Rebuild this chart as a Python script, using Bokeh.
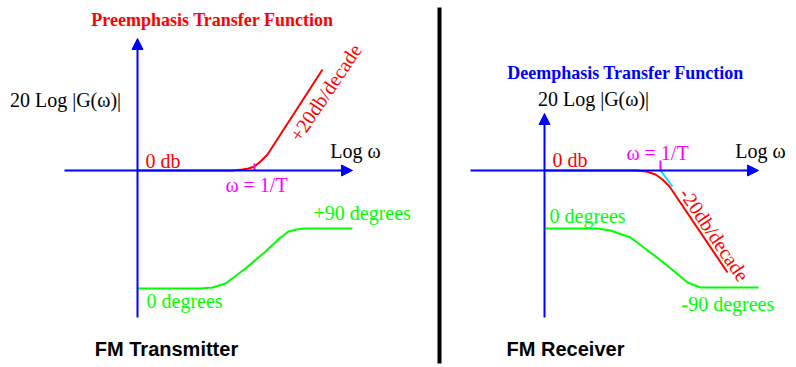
import math
from bokeh.plotting import figure
from bokeh.models import Range1d, Arrow, NormalHead
from bokeh.core.properties import value
from bokeh.embed import file_html
from bokeh.resources import INLINE

# ---- diagram data (picture pixel coordinates) ----
# Preemphasis (transmitter) panel
pre_origin_x = 137
pre_haxis = [64, 352]          # x start, x arrow tip of horizontal axis
pre_vaxis = [317, 38]          # y bottom, y arrow tip of vertical axis
axis_y = 170
pre_mag_x = [137, 232, 242, 248, 254, 260, 267, 322]
pre_mag_y = [170, 170, 169, 168, 166, 161, 154, 69]
pre_phase_x = [137, 200, 212, 225, 245, 265, 280, 288, 296, 303, 352]
pre_phase_y = [288, 288, 287, 283, 268, 251, 237, 231, 229, 228, 228]
pre_tick_x = 254

# Deemphasis (receiver) panel
de_origin_x = 544
de_haxis = [470, 758]
de_vaxis = [317, 113]
de_mag_x = [544, 636, 646, 655, 662, 669, 727]
de_mag_y = [170, 170, 171, 174, 179, 186, 272]
de_asym_x = [660, 672]
de_asym_y = [170, 186]
de_phase_x = [544, 597, 610, 630, 663, 687, 700, 758]
de_phase_y = [228, 228, 230, 237, 262, 282, 287, 287]
de_tick_x = 660

divider_x = 439
divider_y = [7, 363]

# text labels
serif_labels = ["20 Log |G(\u03c9)|", "Log \u03c9", "20 Log |G(\u03c9)|", "Log \u03c9"]
serif_x = [65, 355, 593, 760]
serif_y = [99, 150, 98, 150]

BLUE = "#0000ff"
RED = "#ff0000"
GREEN = "#00ff00"
MAGENTA = "#ff00ff"
CYAN = "#00e0ff"
SERIF = value("Liberation Serif")
SANS = value("Liberation Sans")

p = figure(width=796, height=367, output_backend="svg", toolbar_location=None,
           x_range=Range1d(0, 796), y_range=Range1d(367, 0),
           min_border=0, min_border_left=0, min_border_right=0,
           min_border_top=0, min_border_bottom=0)
p.axis.visible = False
p.grid.visible = False
p.outline_line_color = None
p.background_fill_color = "white"
p.border_fill_color = "white"

# axes with arrowheads
for (hx, vy, ox) in [(pre_haxis, pre_vaxis, pre_origin_x), (de_haxis, de_vaxis, de_origin_x)]:
    p.add_layout(Arrow(end=NormalHead(size=11, fill_color=BLUE, line_color=BLUE),
                       x_start=hx[0], y_start=axis_y, x_end=hx[1], y_end=axis_y,
                       line_color=BLUE, line_width=2))
    p.add_layout(Arrow(end=NormalHead(size=11, fill_color=BLUE, line_color=BLUE),
                       x_start=ox, y_start=vy[0], x_end=ox, y_end=vy[1],
                       line_color=BLUE, line_width=2))

# divider
p.line([divider_x, divider_x], divider_y, line_color="black", line_width=4)

# magnitude curves
p.line(pre_mag_x, pre_mag_y, line_color=RED, line_width=2)
p.line(de_mag_x, de_mag_y, line_color=RED, line_width=2)
p.line(de_asym_x, de_asym_y, line_color=CYAN, line_width=2)

# 1/T ticks
p.line([pre_tick_x, pre_tick_x], [163, 170], line_color=MAGENTA, line_width=2)
p.line([de_tick_x, de_tick_x], [160, 170], line_color=MAGENTA, line_width=2)

# phase curves
p.line(pre_phase_x, pre_phase_y, line_color=GREEN, line_width=2)
p.line(de_phase_x, de_phase_y, line_color=GREEN, line_width=2)

# titles
p.text(x=[212], y=[19], text=["Preemphasis Transfer Function"], text_color=RED,
       text_font=SERIF, text_font_style="bold", text_font_size="18px",
       text_align="center", text_baseline="middle")
p.text(x=[625], y=[72], text=["Deemphasis Transfer Function"], text_color=BLUE,
       text_font=SERIF, text_font_style="bold", text_font_size="18px",
       text_align="center", text_baseline="middle")

# axis labels
p.text(x=serif_x, y=serif_y, text=serif_labels, text_color="black",
       text_font=SERIF, text_font_size="20px",
       text_align="center", text_baseline="middle")

# 0 db
p.text(x=[145, 552], y=[160, 159], text=["0 db", "0 db"], text_color=RED,
       text_font=SERIF, text_font_size="20px", text_align="left", text_baseline="middle")

# w = 1/T
p.text(x=[256, 657], y=[184, 152], text=["\u03c9 = 1/T", "\u03c9 = 1/T"], text_color=MAGENTA,
       text_font=SERIF, text_font_size="20px", text_align="center", text_baseline="middle")

# slopes
p.text(x=[325], y=[92], text=["+20db/decade"], angle=[math.radians(56)], text_color=RED,
       text_font=SERIF, text_font_size="20px", text_align="center", text_baseline="middle")
p.text(x=[714], y=[234], text=["-20db/decade"], angle=[math.radians(-56)], text_color=RED,
       text_font=SERIF, text_font_size="20px", text_align="center", text_baseline="middle")

# phase labels
p.text(x=[313, 146, 549, 681], y=[212, 300, 215, 303],
       text=["+90 degrees", "0 degrees", "0 degrees", "-90 degrees"], text_color=GREEN,
       text_font=SERIF, text_font_size="20px", text_align="left", text_baseline="middle")

# captions
p.text(x=[166, 565], y=[348, 348], text=["FM Transmitter", "FM Receiver"], text_color="black",
       text_font=SANS, text_font_style="bold", text_font_size="20px",
       text_align="center", text_baseline="middle")

open("out.html", "w").write(file_html(p, INLINE))
